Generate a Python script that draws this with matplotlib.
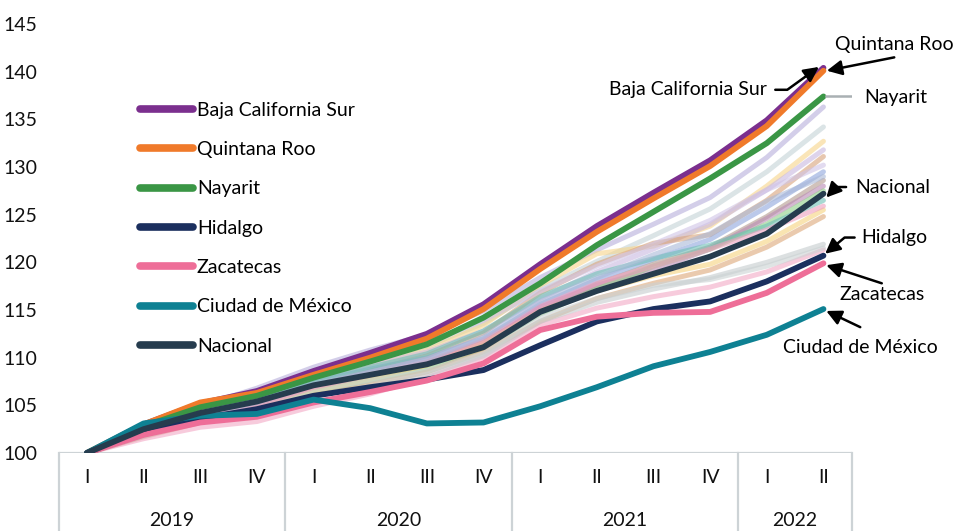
import matplotlib
matplotlib.use("Agg")
import matplotlib.pyplot as plt

plt.rcParams['font.family'] = ['Lato', 'DejaVu Sans']

quarters = ["I", "II", "III", "IV", "I", "II", "III", "IV", "I", "II", "III", "IV", "I", "II"]
years = ["2019", "2020", "2021", "2022"]
year_sizes = [4, 4, 4, 2]

# Highlighted states and national index (base 2019-I = 100)
baja_california_sur = [100, 103.0, 105.2, 106.5, 108.6, 110.5, 112.5, 115.6, 119.8, 123.8, 127.3, 130.7, 134.9, 140.4]
quintana_roo = [100, 103.0, 105.3, 106.3, 108.2, 110.0, 112.0, 115.1, 119.3, 123.2, 126.7, 130.1, 134.3, 140.1]
nayarit = [100, 102.8, 104.8, 106.0, 107.9, 109.6, 111.4, 114.2, 117.8, 121.8, 125.3, 128.8, 132.5, 137.4]
hidalgo = [100, 102.1, 103.6, 104.6, 106.0, 106.9, 107.7, 108.7, 111.3, 113.8, 115.1, 115.9, 118.0, 120.7]
zacatecas = [100, 101.9, 103.2, 103.8, 105.3, 106.4, 107.6, 109.4, 112.9, 114.3, 114.7, 114.8, 116.8, 119.9]
ciudad_de_mexico = [100, 103.1, 103.9, 104.1, 105.6, 104.7, 103.1, 103.2, 104.9, 106.9, 109.1, 110.6, 112.4, 115.1]
nacional = [100, 102.5, 104.2, 105.4, 107.1, 108.2, 109.3, 111.1, 114.8, 117.0, 118.8, 120.6, 123.0, 127.2]

# Remaining states, drawn as light background lines
other_states = [
    [100, 102.8, 104.9, 106.8, 109.0, 110.8, 112.4, 114.9, 118.4, 121.3, 124.0, 126.8, 131.0, 136.3],
    [100, 102.6, 104.5, 106.0, 108.0, 109.6, 111.2, 113.6, 117.2, 120.1, 122.8, 125.6, 129.5, 134.2],
    [100, 102.2, 104.0, 105.4, 107.4, 109.0, 110.8, 113.4, 117.6, 120.9, 121.7, 123.8, 128.0, 132.7],
    [100, 102.4, 104.3, 105.8, 107.8, 109.2, 110.6, 112.8, 116.2, 119.0, 121.4, 124.0, 127.6, 131.8],
    [100, 102.0, 103.8, 105.0, 107.0, 108.6, 110.2, 112.6, 116.8, 119.8, 122.0, 122.9, 126.5, 131.1],
    [100, 102.3, 104.1, 105.5, 107.4, 108.8, 110.0, 112.0, 115.6, 118.2, 120.3, 122.4, 125.8, 129.5],
    [100, 101.9, 103.6, 104.9, 106.8, 108.1, 109.5, 111.6, 115.0, 117.7, 119.8, 121.6, 124.8, 128.6],
    [100, 102.1, 103.8, 105.1, 106.9, 108.2, 109.4, 111.4, 115.3, 117.6, 119.2, 121.4, 124.6, 128.0],
    [100, 101.8, 103.4, 104.5, 106.4, 107.6, 108.8, 111.0, 114.6, 117.2, 119.6, 121.4, 124.0, 127.5],
    [100, 102.4, 104.2, 105.6, 107.6, 109.0, 110.4, 112.8, 116.4, 118.8, 120.4, 121.8, 123.8, 126.5],
    [100, 101.9, 103.5, 104.6, 106.5, 107.8, 109.2, 111.5, 114.9, 117.0, 118.6, 119.8, 122.2, 125.5],
    [100, 101.7, 103.2, 104.3, 106.0, 107.2, 108.5, 110.6, 113.8, 116.2, 117.8, 119.2, 121.6, 124.8],
    [100, 101.5, 102.7, 103.3, 104.9, 106.2, 107.9, 110.0, 113.4, 115.2, 116.4, 117.4, 119.0, 121.3],
    [100, 101.8, 103.3, 104.3, 106.0, 107.0, 108.2, 110.2, 113.8, 115.8, 117.2, 118.4, 120.0, 121.9],
    [100, 102.0, 103.6, 104.8, 106.6, 107.6, 108.6, 110.4, 114.2, 116.2, 117.6, 118.2, 119.6, 121.5],
    [100, 102.6, 104.7, 106.3, 108.4, 110.1, 111.6, 113.9, 117.0, 119.6, 121.9, 124.4, 127.6, 130.2],
    [100, 102.0, 103.7, 105.0, 106.9, 108.2, 109.6, 111.8, 115.4, 117.8, 119.6, 121.4, 123.4, 125.9],
    [100, 102.2, 104.0, 105.3, 107.2, 108.5, 109.8, 112.2, 115.9, 118.4, 120.8, 123.0, 126.4, 129.0],
]
other_colors = ["#B7AEDB", "#C4D2D6", "#F7D58A", "#C9B8E0", "#D8A27A", "#8EA6DC",
                "#B39A8F", "#B98AB4", "#8FCF88", "#6FC0B6", "#F5D27E", "#DDA878",
                "#F3A9C6", "#C5CCCE", "#CBD2D3", "#CFC3E6", "#EE9FBF", "#A9B8D8"]

highlight = [
    ("Baja California Sur", baja_california_sur, "#7B2F8E"),
    ("Quintana Roo", quintana_roo, "#F07A2A"),
    ("Nayarit", nayarit, "#3A9645"),
    ("Hidalgo", hidalgo, "#1B2F5E"),
    ("Zacatecas", zacatecas, "#EE6E98"),
    ("Ciudad de México", ciudad_de_mexico, "#0E8193"),
    ("Nacional", nacional, "#263C4E"),
]

FS = 14
fig = plt.figure(figsize=(9.58, 5.31), dpi=100)
ax = fig.add_axes([0.0612, 0.1469, 0.8279, 0.8079])
x = list(range(len(quarters)))

for vals, col in zip(other_states, other_colors):
    ax.plot(x, vals, color=col, lw=3.6, alpha=0.6, solid_capstyle="round",
            solid_joinstyle="round", zorder=2)

for name, vals, col in highlight:
    ax.plot(x, vals, color=col, lw=4.2, solid_capstyle="round",
            solid_joinstyle="round", zorder=3, label=name)

ax.set_xlim(-0.5, 13.5)
ax.set_ylim(100, 145)
ax.set_yticks(range(100, 146, 5))
ax.tick_params(axis="y", length=0, labelsize=FS, pad=15, colors="#111111")
ax.set_xticks([])
for s in ax.spines.values():
    s.set_visible(False)

# Category box beneath the plot
grid_col = "#CDD3D6"
ax.axhline(100, color=grid_col, lw=1.6, zorder=1)
bounds = [-0.5]
for n in year_sizes:
    bounds.append(bounds[-1] + n)
trans = ax.get_xaxis_transform()
for b in bounds:
    ax.plot([b, b], [0, -0.25], color=grid_col, lw=1.6, transform=trans, clip_on=False)
for i, q in enumerate(quarters):
    ax.text(i, -0.058, q, transform=trans, ha="center", va="center", fontsize=FS, color="#111111")
for yr, lo, hi in zip(years, bounds[:-1], bounds[1:]):
    ax.text((lo + hi) / 2, -0.157, yr, transform=trans, ha="center", va="center",
            fontsize=FS, color="#111111")

leg = ax.legend(loc="upper left", bbox_to_anchor=(0.102, 0.819), frameon=False,
                fontsize=FS, handlelength=2.75, handletextpad=0.2, labelspacing=1.15,
                borderaxespad=0, borderpad=0)
for h in leg.get_lines():
    h.set_linewidth(5.5)
    h.set_solid_capstyle("round")

# End-of-line labels
arrow = dict(arrowstyle="-|>,head_length=0.9,head_width=0.45", color="black", lw=1.8,
             shrinkA=0, shrinkB=0)
last = len(quarters) - 1

ax.annotate("", xy=(last + 0.06, quintana_roo[-1]), xytext=(last + 1.25, quintana_roo[-1] + 1.4),
            arrowprops=arrow, zorder=5)
ax.text(last + 1.25, quintana_roo[-1] + 2.7, "Quintana Roo", ha="center", va="center", fontsize=FS)

ax.annotate("", xy=(last - 0.08, baja_california_sur[-1] + 0.1),
            xytext=(last - 0.85, baja_california_sur[-1] - 2.3),
            arrowprops=dict(arrow, connectionstyle="arc,angleA=0,armA=12,angleB=0,armB=0,rad=0"),
            zorder=5)
ax.text(last - 1.0, baja_california_sur[-1] - 2.3, "Baja California Sur", ha="right", va="center",
        fontsize=FS)

ax.plot([last + 0.05, last + 0.6], [nayarit[-1], nayarit[-1]], color="#A9B0B3", lw=1.8, zorder=5)
ax.text(last + 0.72, nayarit[-1] - 0.15, "Nayarit", ha="left", va="center", fontsize=FS)

ax.annotate("", xy=(last + 0.05, nacional[-1] - 0.4), xytext=(last + 0.4, nacional[-1] + 0.7),
            arrowprops=dict(arrow, connectionstyle="arc,angleA=180,armA=10,angleB=0,armB=0,rad=0"),
            zorder=5)
ax.text(last + 0.57, nacional[-1] + 0.7, "Nacional", ha="left", va="center", fontsize=FS)

ax.annotate("", xy=(last + 0.03, hidalgo[-1] + 0.2), xytext=(last + 0.55, hidalgo[-1] + 1.9),
            arrowprops=dict(arrow, connectionstyle="arc,angleA=180,armA=10,angleB=0,armB=0,rad=0"),
            zorder=5)
ax.text(last + 0.67, hidalgo[-1] + 1.9, "Hidalgo", ha="left", va="center", fontsize=FS)

ax.annotate("", xy=(last + 0.05, zacatecas[-1] - 0.2), xytext=(last + 1.03, zacatecas[-1] - 2.1),
            arrowprops=arrow, zorder=5)
ax.text(last + 1.03, zacatecas[-1] - 3.3, "Zacatecas", ha="center", va="center", fontsize=FS)

ax.annotate("", xy=(last + 0.05, ciudad_de_mexico[-1] - 0.2), xytext=(last + 0.65, ciudad_de_mexico[-1] - 1.9),
            arrowprops=arrow, zorder=5)
ax.text(last + 0.65, ciudad_de_mexico[-1] - 4.0, "Ciudad de México", ha="center", va="center", fontsize=FS)

fig.savefig("out.png", dpi=100)
